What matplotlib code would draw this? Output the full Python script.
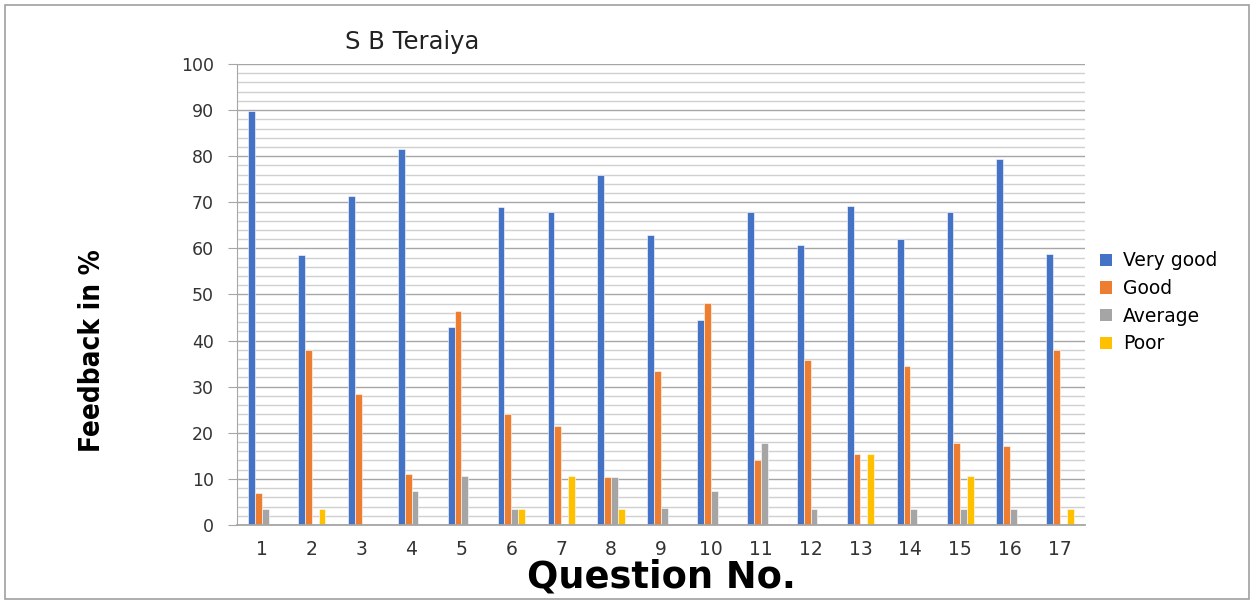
import numpy as np
import matplotlib
matplotlib.use('Agg')
import matplotlib.pyplot as plt
from matplotlib.patches import Rectangle, Patch

questions = [str(i) for i in range(1, 18)]
very_good = [89.7, 58.6, 71.4, 81.6, 42.9, 69.0, 68.0, 76.0, 63.0,
             44.5, 68.0, 60.7, 69.2, 62.1, 68.0, 79.4, 58.7]
good = [6.9, 38.0, 28.4, 11.0, 46.5, 24.1, 21.4, 10.3, 33.4,
        48.1, 14.2, 35.7, 15.4, 34.5, 17.7, 17.2, 38.0]
average = [3.4, 0, 0, 7.4, 10.6, 3.4, 0, 10.3, 3.7,
           7.4, 17.7, 3.5, 0, 3.4, 3.5, 3.4, 0]
poor = [0, 3.4, 0, 0, 0, 3.4, 10.6, 3.4, 0,
        0, 0, 0, 15.4, 0, 10.6, 0, 3.4]

series = [('Very good', very_good, '#4472C4'),
          ('Good', good, '#ED7D31'),
          ('Average', average, '#A5A5A5'),
          ('Poor', poor, '#FFC000')]

fig = plt.figure(figsize=(12.53, 6.01), dpi=100)
ax = fig.add_axes([0.1891, 0.1265, 0.6768, 0.767])

x = np.arange(1, 18)
w = 0.137
for i, (name, vals, col) in enumerate(series):
    ax.bar(x + (i - 1.5) * w, vals, width=w, color=col,
           edgecolor='white', linewidth=0.4)

ax.set_xlim(0.5, 17.5)
ax.set_ylim(0, 100)
ax.set_yticks(np.arange(0, 101, 10))
ax.set_yticks(np.arange(0, 101, 2), minor=True)
ax.set_xticks(x)
ax.set_xticklabels(questions)
ax.grid(axis='y', which='major', color='#a6a6a6', linewidth=1.0)
ax.grid(axis='y', which='minor', color='#d0d0d0', linewidth=1.0)
ax.set_axisbelow(True)
for s in ['top', 'right']:
    ax.spines[s].set_visible(False)
ax.spines['left'].set_color('#a6a6a6')
ax.spines['bottom'].set_color('#a6a6a6')
ax.spines['bottom'].set_linewidth(1.3)
ax.tick_params(axis='y', which='major', length=6.5, color='#a6a6a6',
               labelsize=12.5, labelcolor='#333333', pad=10)
ax.tick_params(axis='y', which='minor', length=0)
ax.tick_params(axis='x', length=0, labelsize=13.5, labelcolor='#333333', pad=11)
for lab in ax.get_yticklabels() + ax.get_xticklabels():
    lab.set_family('DejaVu Sans')

fig.text(412 / 1253, 1 - 42 / 601, 'S B Teraiya', fontsize=17.5,
         family='DejaVu Sans', ha='center', va='center', color='#222222')
fig.text(92 / 1253, 1 - 351 / 601, 'Feedback in %', fontsize=20,
         family='DejaVu Sans', stretch='condensed', weight='bold',
         rotation=90, ha='center', va='center')
fig.text(661 / 1253, 1 - 577 / 601, 'Question No.', fontsize=26.5,
         family='DejaVu Sans', weight='bold', ha='center', va='center')

handles = [Patch(facecolor=c, label=n) for n, v, c in series]
fig.legend(handles=handles, loc='upper left',
           bbox_to_anchor=(1092 / 1253, 1 - 244 / 601), frameon=False,
           prop={'family': 'DejaVu Sans', 'size': 13.5},
           handlelength=0.65, handleheight=0.65, handletextpad=0.6,
           labelspacing=0.46, borderaxespad=0)

fig.patches.append(Rectangle((5 / 1253, 2 / 601), 1244 / 1253, 594 / 601,
                             transform=fig.transFigure, fill=False,
                             edgecolor='#a0a0a0', linewidth=1.2))

fig.savefig('out.png', dpi=100)
